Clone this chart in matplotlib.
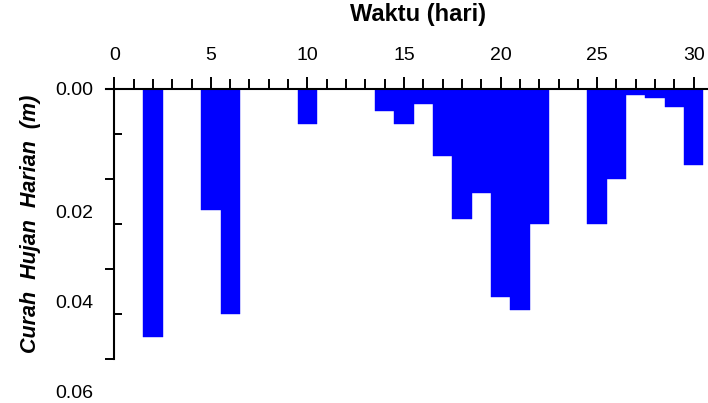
import numpy as np
import matplotlib
matplotlib.use("Agg")
import matplotlib.pyplot as plt
import matplotlib.transforms as mtransforms
from matplotlib.ticker import MultipleLocator

plt.rcParams['font.family'] = ['Liberation Sans', 'DejaVu Sans']

# curah hujan harian (m) per hari
hari = list(range(1, 31))
curah_hujan = [0.0, 0.0551, 0.0, 0.0, 0.0269, 0.0499, 0.0, 0.0, 0.0, 0.0078,
               0.0, 0.0, 0.0, 0.0049, 0.0078, 0.0033, 0.0149, 0.0289, 0.0232, 0.0462,
               0.0492, 0.0301, 0.0, 0.0, 0.0301, 0.0201, 0.0013, 0.0021, 0.0039, 0.0169]
y_ticks = [0.00, 0.02, 0.04, 0.06]
y_ticklabels = ['0.00', '0.02', '0.04', '0.06']

fig = plt.figure(figsize=(7.08, 4.03), dpi=100)
ax = fig.add_axes([0.1497, 0.1092, 0.8503, 0.6700])

ax.bar(hari, curah_hujan, width=1.0, color='#0000ff', edgecolor='#0000ff',
       linewidth=0.3, zorder=1)

ax.set_xlim(-0.43, 30.74)
ax.set_ylim(0.06, 0.0)

# sumbu waktu di atas
ax.xaxis.tick_top()
ax.xaxis.set_major_locator(MultipleLocator(5))
ax.xaxis.set_minor_locator(MultipleLocator(1))
ax.tick_params(axis='x', which='major', direction='out', length=9, width=1.4,
               labelsize=14, pad=9)
ax.tick_params(axis='x', which='minor', direction='out', length=7, width=1.4)

# sumbu curah hujan di x = 0
ax.spines['left'].set_position(('data', 0))
ax.spines['right'].set_visible(False)
ax.spines['bottom'].set_visible(False)
for s in ('top', 'left'):
    ax.spines[s].set_linewidth(1.5)

ax.set_yticks(y_ticks)
ax.set_yticklabels(y_ticklabels)
ax.yaxis.set_minor_locator(MultipleLocator(0.01))
ax.tick_params(axis='y', which='major', direction='out', length=6.5, width=1.4,
               labelsize=14, pad=8.5)
ax.tick_params(axis='y', which='minor', direction='in', length=6, width=1.4)

# label selain 0.00 digeser ke bawah
shift = mtransforms.ScaledTranslation(0, -0.33, fig.dpi_scale_trans)
for lbl in ax.get_yticklabels()[1:]:
    lbl.set_transform(lbl.get_transform() + shift)

ax.set_xlabel('Waktu (hari)', fontsize=17, fontweight='bold', va='center')
ax.xaxis.set_label_position('top')
ax.xaxis.set_label_coords(0.518, 1.252)

ax.set_ylabel('Curah  Hujan  Harian  (m)', fontsize=15.5, fontweight='bold',
              fontstyle='italic', va='center')
ax.yaxis.set_label_coords(-0.126, 0.5)

fig.savefig('out.png', dpi=100)
